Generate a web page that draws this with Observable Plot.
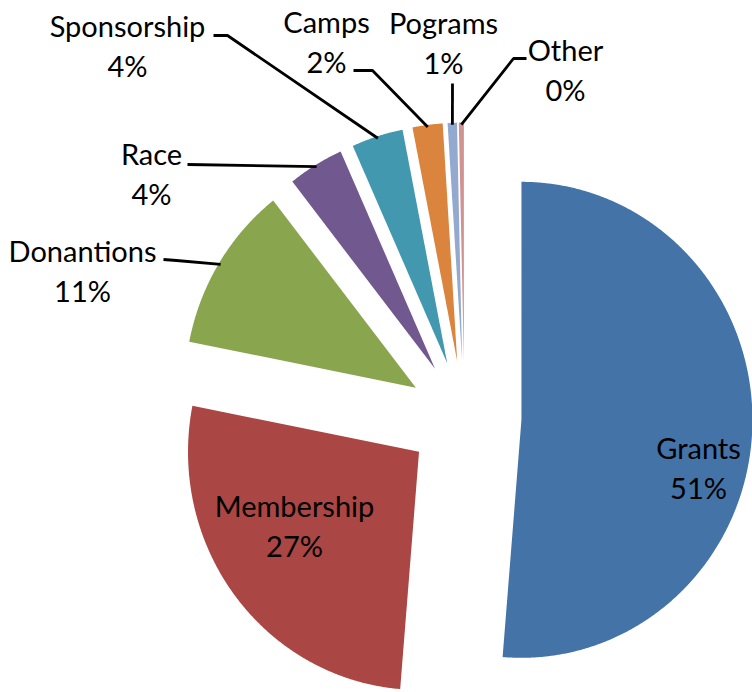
<!DOCTYPE html>
<html><head><meta charset="utf-8">
<script src="https://cdn.jsdelivr.net/npm/d3@7"></script>
<script src="https://cdn.jsdelivr.net/npm/@observablehq/plot@0.6"></script>
<style>html,body{margin:0;padding:0;background:#fff;overflow:hidden}</style>
</head><body><div id="chart"></div>
<script>
// ---- data ----
const categories = ["Grants", "Membership", "Donantions", "Race", "Sponsorship", "Camps", "Pograms", "Other"];
const values = [51.3, 26.8, 11.3, 3.9, 3.6, 2.1, 0.65, 0.35];
const colors = ["#4473A8", "#AA4643", "#89A54E", "#71588F", "#4198AF", "#DB843D", "#93A9CF", "#D19392"];

// ---- layout (pixel space) ----
const W = 752, H = 692;
const cx = 464, cy = 417, rx = 231, ry = 238, explode = 57;
// label anchor (center x, top y of text block)
const labelPos = [[698, 430], [294, 488], [82, 233], [151, 136], [127, 8], [326, 4], [443, 5], [565, 32]];
// leader line start points (near label)
const leaderStart = [null, null, [[163, 259], [176, 260]], [[187, 164]], [[213, 35], [227, 35]], [[353, 70], [372, 70]], [[452, 83]], [[526, 58], [513, 58]]];

const total = d3.sum(values);
const arcs = d3.pie().sort(null).value(d => d)(values);

const slicePts = [];
const leaderPts = [];
const labels = [];
arcs.forEach((a, i) => {
  const name = categories[i];
  const mid = (a.startAngle + a.endAngle) / 2;
  const ox = cx + explode * Math.sin(mid), oy = cy - explode * Math.cos(mid);
  slicePts.push({name, x: ox, y: oy});
  const n = Math.max(2, Math.ceil((a.endAngle - a.startAngle) / 0.005));
  for (let k = 0; k <= n; k++) {
    const t = a.startAngle + (a.endAngle - a.startAngle) * k / n;
    slicePts.push({name, x: ox + rx * Math.sin(t), y: oy - ry * Math.cos(t)});
  }
  const pct = Math.round(values[i] / total * 100) + "%";
  labels.push({name, x: labelPos[i][0], y: labelPos[i][1], text: name + "\n" + pct});
  if (leaderStart[i]) {
    leaderStart[i].forEach(p => leaderPts.push({name, x: p[0], y: p[1]}));
    leaderPts.push({name, x: ox + (rx - 2) * Math.sin(mid), y: oy - (ry - 2) * Math.cos(mid)});
  }
});

const chart = Plot.plot({
  width: W, height: H,
  margin: 0,
  x: {domain: [0, W], axis: null},
  y: {domain: [H, 0], axis: null},
  color: {domain: categories, range: colors},
  style: {background: "#fff"},
  marks: [
    Plot.line(slicePts, {x: "x", y: "y", z: "name", fill: "name", stroke: "none", curve: "linear-closed"}),
    Plot.line(leaderPts, {x: "x", y: "y", z: "name", stroke: "black", strokeWidth: 2.8, strokeLinecap: "butt", strokeLinejoin: "miter"}),
    Plot.text(labels, {x: "x", y: "y", text: "text", lineAnchor: "top", lineHeight: 1.38, fontSize: 29, fontFamily: "Lato", fill: "black"})
  ]
});
document.getElementById("chart").appendChild(chart);
</script>
</body></html>
